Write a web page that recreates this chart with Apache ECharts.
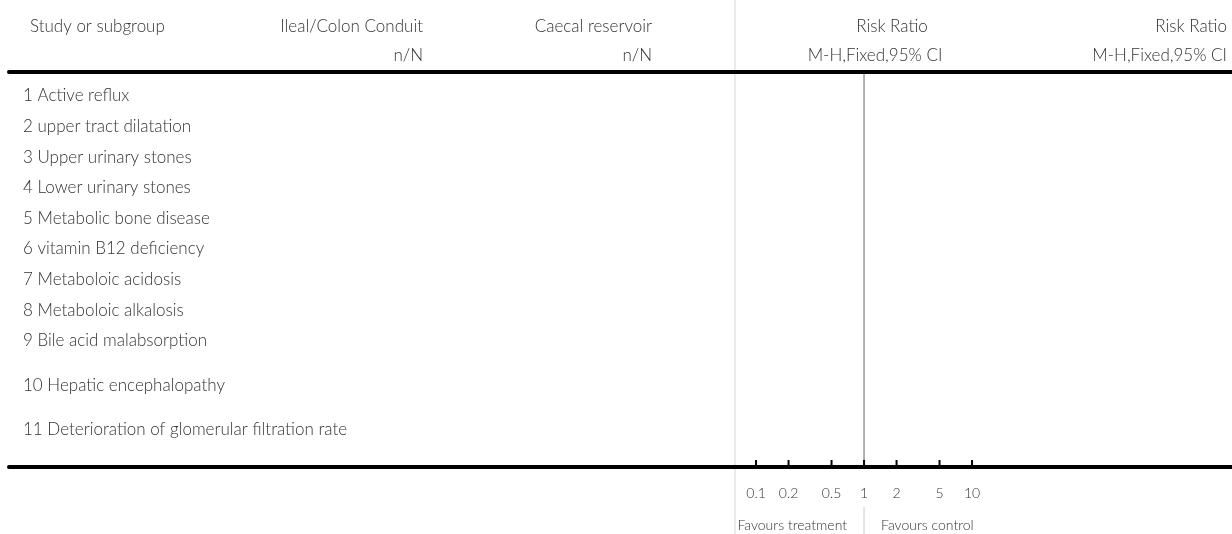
<!DOCTYPE html>
<html>
<head>
<meta charset="utf-8">
<script src="https://cdn.jsdelivr.net/npm/echarts@6/dist/echarts.min.js"></script>
<style>
  html, body { margin: 0; padding: 0; background: #fff; }
  #chart { width: 1232px; height: 534px; }
</style>
</head>
<body>
<div id="chart"></div>
<script>
// Forest plot outline: subgroups with no pooled estimates, risk ratio on a log scale.
const subgroups = [
  '1 Active reflux',
  '2 upper tract dilatation',
  '3 Upper urinary stones',
  '4 Lower urinary stones',
  '5 Metabolic bone disease',
  '6 vitamin B12 deficiency',
  '7 Metaboloic acidosis',
  '8 Metaboloic alkalosis',
  '9 Bile acid malabsorption',
  '10 Hepatic encephalopathy',
  '11 Deterioration of glomerular filtration rate'
];
const tickValues = [0.1, 0.2, 0.5, 1, 2, 5, 10];
const tickLabels = ['0.1', '0.2', '0.5', '1', '2', '5', '10'];
const nullEffect = 1;
const favourLabels = ['Favours treatment', 'Favours control'];
const headerTop = ['Study or subgroup', 'Ileal/Colon Conduit', 'Caecal reservoir', 'Risk Ratio', 'Risk Ratio'];
const headerSub = ['', 'n/N', 'n/N', 'M-H,Fixed,95% CI', 'M-H,Fixed,95% CI'];

// Layout: row slot for each subgroup (the last two sit on taller rows).
const rowSlots = [1, 2, 3, 4, 5, 6, 7, 8, 9, 10.47, 11.9];
const X_MIN = Math.pow(10, -7.917);
const X_MAX = Math.pow(10, 3.407);
const Y_MIN = 0.25;
const Y_MAX = 13.16;

const FONT = 'Lato, "Open Sans", sans-serif';
const MAIN = '300 17px ' + FONT;
const SMALL = '300 14px ' + FONT;
const TEXT = '#333';

const chart = echarts.init(document.getElementById('chart'), null, { renderer: 'canvas' });

const headerX = [30, 423, 652, 892, 1227];
const headerSubX = [30, 423, 652, 875, 1227];
const headerAlign = ['left', 'right', 'right', 'center', 'right'];
const graphics = [];
headerTop.forEach((t, i) => {
  graphics.push({
    type: 'text', x: headerX[i], y: 27, silent: true,
    style: { text: t, font: MAIN, fill: TEXT, align: headerAlign[i], verticalAlign: 'middle' }
  });
  if (headerSub[i]) {
    graphics.push({
      type: 'text', x: headerSubX[i], y: 56, silent: true,
      style: { text: headerSub[i], font: MAIN, fill: TEXT, align: headerAlign[i], verticalAlign: 'middle' }
    });
  }
});
// column divider on the left of the plot column
graphics.push({
  type: 'line', silent: true, z: 0,
  shape: { x1: 735, y1: 0, x2: 735, y2: 534 },
  style: { stroke: '#e2e2e2', lineWidth: 1.5 }
});

const logAxis = (pos) => ({
  type: 'log', logBase: 10, position: pos, min: X_MIN, max: X_MAX,
  axisLine: { show: true, onZero: false, lineStyle: { color: '#000', width: 4 } },
  axisTick: { show: false }, axisLabel: { show: false }, splitLine: { show: false }
});

chart.setOption({
  animation: false,
  backgroundColor: '#fff',
  grid: { left: 9, right: 0, top: 72, bottom: 67, containLabel: false },
  xAxis: [logAxis('bottom'), logAxis('top')],
  yAxis: { type: 'value', inverse: true, min: Y_MIN, max: Y_MAX, show: false },
  graphic: graphics,
  series: [
    {
      // subgroup headings
      type: 'custom', xAxisIndex: 0, clip: false,
      data: subgroups.map((s, i) => [X_MIN, rowSlots[i]]),
      renderItem(params, api) {
        const p = api.coord([api.value(0), api.value(1)]);
        return {
          type: 'text', silent: true,
          style: { text: subgroups[params.dataIndex], x: p[0] + 14, y: p[1] + 1,
                   font: MAIN, fill: TEXT, align: 'left', verticalAlign: 'middle' }
        };
      }
    },
    {
      // line of no effect, plus the divider between the favour labels
      type: 'custom', xAxisIndex: 0, clip: false,
      data: [[nullEffect, Y_MIN]],
      renderItem(params, api) {
        const top = api.coord([api.value(0), Y_MIN]);
        const bot = api.coord([api.value(0), Y_MAX]);
        return {
          type: 'group', children: [
            { type: 'line', shape: { x1: top[0], y1: top[1] + 2, x2: bot[0], y2: bot[1] },
              style: { stroke: '#999', lineWidth: 1.5 } },
            { type: 'line', shape: { x1: bot[0], y1: bot[1] + 40, x2: bot[0], y2: bot[1] + 67 },
              style: { stroke: '#dcdcdc', lineWidth: 1.5 } },
            { type: 'text', style: { text: favourLabels[0], x: bot[0] - 17, y: bot[1] + 58,
              font: SMALL, fill: TEXT, align: 'right', verticalAlign: 'middle' } },
            { type: 'text', style: { text: favourLabels[1], x: bot[0] + 17, y: bot[1] + 58,
              font: SMALL, fill: TEXT, align: 'left', verticalAlign: 'middle' } }
          ]
        };
      }
    },
    {
      // scale ticks and their labels
      type: 'custom', xAxisIndex: 0, clip: false, z: 5,
      data: tickValues.map(v => [v, Y_MAX]),
      renderItem(params, api) {
        const p = api.coord([api.value(0), api.value(1)]);
        return {
          type: 'group', children: [
            { type: 'rect', shape: { x: p[0] - 1, y: p[1] - 7, width: 2, height: 7 },
              style: { fill: '#000' } },
            { type: 'text', style: { text: tickLabels[params.dataIndex], x: p[0], y: p[1] + 26,
              font: SMALL, fill: TEXT, align: 'center', verticalAlign: 'middle' } }
          ]
        };
      }
    }
  ]
});
</script>
</body>
</html>
